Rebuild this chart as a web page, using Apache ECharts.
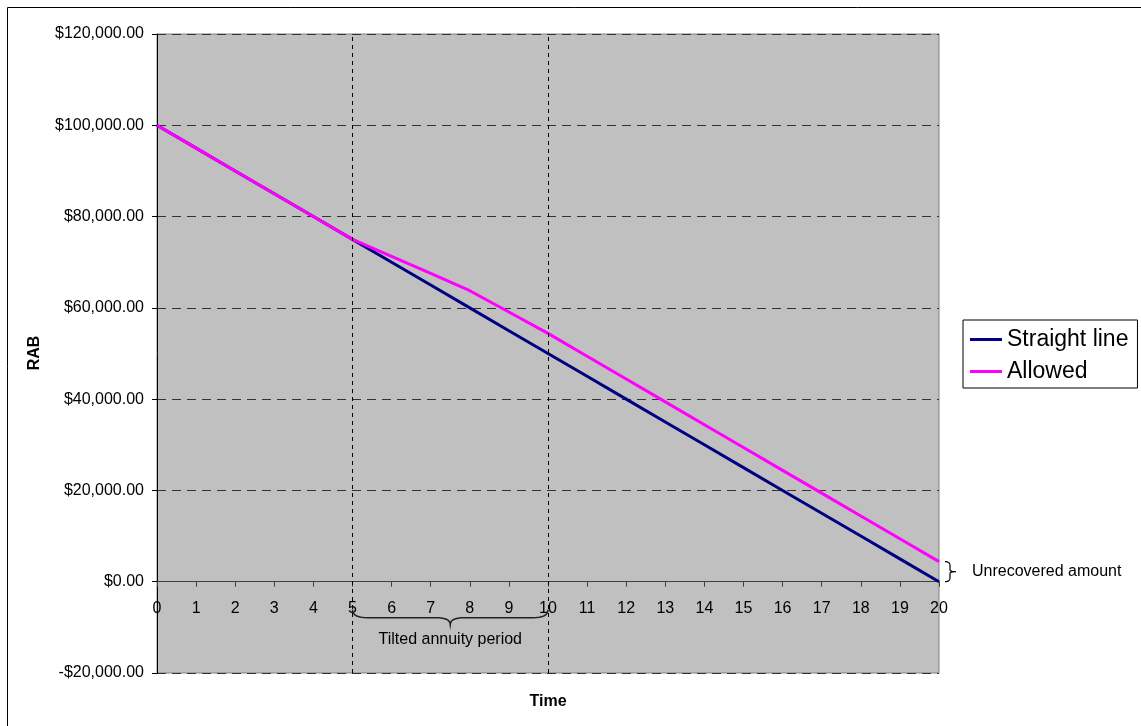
<!DOCTYPE html>
<html>
<head>
<meta charset="utf-8">
<title>RAB</title>
<script src="https://cdn.jsdelivr.net/npm/echarts@6/dist/echarts.min.js"></script>
<style>
  html, body { margin: 0; padding: 0; background: #fff; }
  #chart { width: 1141px; height: 726px; }
</style>
</head>
<body>
<div id="chart"></div>
<script>
// years 0..20
var years = [0,1,2,3,4,5,6,7,8,9,10,11,12,13,14,15,16,17,18,19,20];
var straightLine = [100000,95000,90000,85000,80000,75000,70000,65000,60000,55000,50000,
                    45000,40000,35000,30000,25000,20000,15000,10000,5000,0];
var allowed = [100000,95000,90000,85000,80000,75000,71300,67550,63750,59100,54400,
               49400,44400,39400,34400,29400,24400,19400,14400,9400,4400];
var periodMarks = [5, 10];
var yMin = -20000, yMax = 120000;

function money(v) {
  var s = Math.abs(v).toFixed(2).replace(/\B(?=(\d{3})+(?!\d))/g, ',');
  return (v < 0 ? '-$' : '$') + s;
}

var font = 'Liberation Sans, Arial, sans-serif';
var W = 1141, H = 726;
var gTop = 34, gBottom = 53;
var gridH = H - gTop - gBottom;
// lift the x axis up to the zero line
var xOffset = -(0 - yMin) / (yMax - yMin) * gridH;

var chart = echarts.init(document.getElementById('chart'));

chart.setOption({
  animation: false,
  textStyle: { fontFamily: font },
  grid: {
    left: 157, top: gTop, right: 202, bottom: gBottom,
    show: true, backgroundColor: '#C0C0C0', borderColor: '#808080', borderWidth: 1
  },
  legend: {
    orient: 'vertical',
    left: 963, top: 320,
    padding: [8, 9, 5, 7],
    itemGap: 9,
    itemWidth: 32, itemHeight: 3,
    icon: 'rect',
    borderColor: '#000', borderWidth: 1,
    backgroundColor: '#fff',
    textStyle: { fontSize: 23, color: '#000', fontFamily: font },
    data: ['Straight line', 'Allowed']
  },
  xAxis: {
    type: 'value', min: 0, max: 20, interval: 1,
    position: 'bottom', offset: xOffset,
    axisLine: { onZero: false, lineStyle: { color: '#404040', width: 1 } },
    axisTick: { show: true, length: 5, lineStyle: { color: '#404040' } },
    axisLabel: { fontSize: 16, color: '#000', margin: 19 },
    splitLine: { show: false }
  },
  yAxis: {
    type: 'value', min: yMin, max: yMax, interval: 20000,
    axisLine: { show: true, onZero: false, lineStyle: { color: '#000', width: 1 } },
    axisTick: { show: true, length: 5, lineStyle: { color: '#000' } },
    axisLabel: { fontSize: 16, color: '#000', margin: 13, formatter: money },
    splitLine: { show: true, lineStyle: { color: '#333', type: [9, 6], width: 1 } }
  },
  series: [
    {
      name: 'Straight line', type: 'line',
      data: years.map(function (y, i) { return [y, straightLine[i]]; }),
      symbol: 'none', lineStyle: { color: '#000080', width: 3 }, itemStyle: { color: '#000080' },
      markLine: {
        silent: true, symbol: 'none', label: { show: false },
        lineStyle: { color: '#000', type: [4, 4], width: 1 },
        data: periodMarks.map(function (m) { return { xAxis: m }; })
      }
    },
    {
      name: 'Allowed', type: 'line',
      data: years.map(function (y, i) { return [y, allowed[i]]; }),
      symbol: 'none', lineStyle: { color: '#FF00FF', width: 3 }, itemStyle: { color: '#FF00FF' },
      z: 3
    }
  ]
});

// quadratic curve sampled into points
function quad(p0, c, p1) {
  var out = [];
  for (var k = 0; k <= 8; k++) {
    var t = k / 8, u = 1 - t;
    out.push([u * u * p0[0] + 2 * u * t * c[0] + t * t * p1[0],
              u * u * p0[1] + 2 * u * t * c[1] + t * t * p1[1]]);
  }
  return out;
}

var p = function (x, y) { return chart.convertToPixel({ gridIndex: 0 }, [x, y]); };
var a = p(periodMarks[0], 0), b = p(periodMarks[1], 0);
var x1 = a[0], x2 = b[0], xm = (x1 + x2) / 2, y0 = a[1] + 28;
var brace = [].concat(
  quad([x1, y0], [x1, y0 + 8], [x1 + 15, y0 + 8]),
  quad([xm - 14, y0 + 8], [xm, y0 + 8], [xm, y0 + 15]),
  quad([xm, y0 + 15], [xm, y0 + 8], [xm + 14, y0 + 8]),
  quad([x2 - 15, y0 + 8], [x2, y0 + 8], [x2, y0])
);

var last = years.length - 1;
var ua = p(years[last], allowed[last]), ub = p(years[last], straightLine[last]);
var bx = ua[0] + 6, ym = (ua[1] + ub[1]) / 2;
var brace2 = [].concat(
  quad([bx, ua[1]], [bx + 5, ua[1]], [bx + 5, ua[1] + 4]),
  quad([bx + 5, ym - 2], [bx + 5, ym], [bx + 11, ym]),
  quad([bx + 11, ym], [bx + 5, ym], [bx + 5, ym + 2]),
  quad([bx + 5, ub[1] - 4], [bx + 5, ub[1]], [bx, ub[1]])
);

chart.setOption({
  graphic: [
    { type: 'line', shape: { x1: 7.5, y1: 7.5, x2: W, y2: 7.5 },
      style: { stroke: '#000', lineWidth: 1 }, silent: true },
    { type: 'line', shape: { x1: 7.5, y1: 7.5, x2: 7.5, y2: H },
      style: { stroke: '#000', lineWidth: 1 }, silent: true },
    { type: 'polyline', shape: { points: brace },
      style: { fill: null, stroke: '#222', lineWidth: 1.5 }, silent: true, z: 10 },
    { type: 'text', x: xm, y: y0 + 30,
      style: { text: 'Tilted annuity period', fill: '#000', font: '16px ' + font, textAlign: 'center', textVerticalAlign: 'middle' }, z: 10 },
    { type: 'polyline', shape: { points: brace2 },
      style: { fill: null, stroke: '#000', lineWidth: 1.2 }, silent: true, z: 10 },
    { type: 'text', x: bx + 27, y: ym,
      style: { text: 'Unrecovered amount', fill: '#000', font: '16px ' + font, textAlign: 'left', textVerticalAlign: 'middle' }, z: 10 },
    { type: 'text', x: 548, y: 702,
      style: { text: 'Time', fill: '#000', font: 'bold 16px ' + font, textAlign: 'center', textVerticalAlign: 'middle' }, z: 10 },
    { type: 'text', x: 35, y: 353, rotation: Math.PI / 2,
      style: { text: 'RAB', fill: '#000', font: 'bold 16px ' + font, textAlign: 'center', textVerticalAlign: 'middle' }, z: 10 }
  ]
});
</script>
</body>
</html>
